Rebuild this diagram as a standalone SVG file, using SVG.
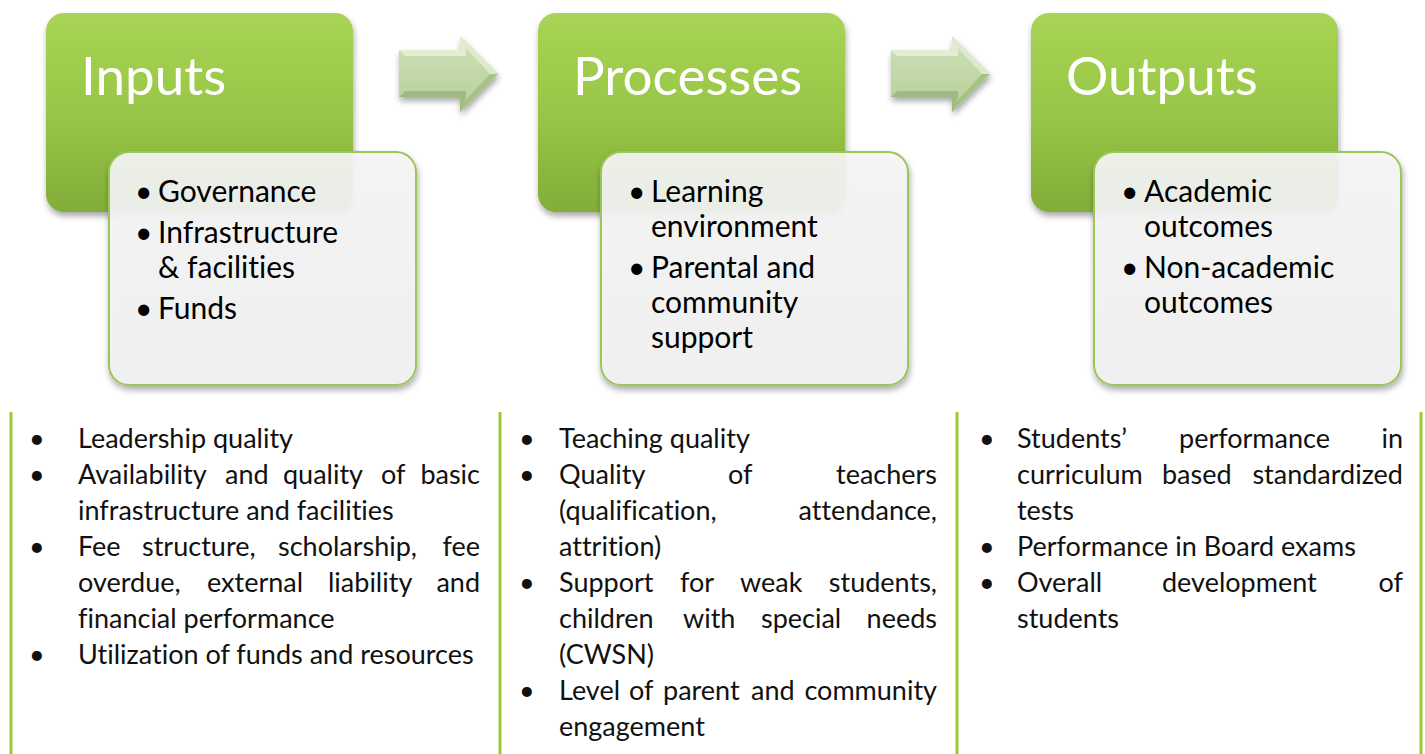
<svg xmlns="http://www.w3.org/2000/svg" width="1425" height="754" viewBox="0 0 1425 754">
<defs>
<linearGradient id="gMain" x1="0" y1="0" x2="0" y2="1">
<stop offset="0" stop-color="#a9d455"/>
<stop offset="0.5" stop-color="#98c646"/>
<stop offset="1" stop-color="#82ad38"/>
</linearGradient>
<linearGradient id="gSub" x1="0" y1="0" x2="0" y2="1">
<stop offset="0" stop-color="#f7f7f7"/>
<stop offset="1" stop-color="#f2f2f2"/>
</linearGradient>
<linearGradient id="gArrow" x1="0" y1="0" x2="0" y2="1">
<stop offset="0" stop-color="#d0e1ba"/>
<stop offset="1" stop-color="#b5cf96"/>
</linearGradient>
<filter id="shadow" x="-10%" y="-10%" width="125%" height="130%">
<feGaussianBlur in="SourceAlpha" stdDeviation="3"/>
<feOffset dx="1" dy="4" result="b"/>
<feComponentTransfer><feFuncA type="linear" slope="0.35"/></feComponentTransfer>
<feMerge><feMergeNode/><feMergeNode in="SourceGraphic"/></feMerge>
</filter>
</defs>
<style>
text{font-family:Lato,"Liberation Sans",sans-serif;font-variant-ligatures:none;font-feature-settings:"liga" 0,"dlig" 0}
.main{fill:url(#gMain);filter:url(#shadow)}
.sub{fill:url(#gSub);fill-opacity:0.9;stroke:#9cc65a;stroke-width:2;filter:url(#shadow)}
.title{font-size:53px;fill:#ffffff}
.item{font-size:30px;fill:#000000}
.body{font-size:27px;fill:#111111}
.rule{stroke:#99cc33;stroke-width:3}
.arrow{fill:url(#gArrow);filter:url(#shadow)}
.bev-l{fill:#e2edd4}
.bev-d{fill:#a0bb82}
</style>
<rect width="1425" height="754" fill="#ffffff"/>

<g id="connectors">
<g id="arrow1">
<polygon class="arrow" points="399,50 460,50 460,36 498,74 460,112 460,97 399,97"/>
<polygon class="bev-l" points="399,50 460,50 460,36 466,50 466,56 405,56"/>
<polygon class="bev-d" points="399,97 460,97 460,112 466,97 466,91 405,91"/>
<polygon class="bev-d" points="498,74 460,112 464,102 490,74" opacity="0.8"/>
<polygon class="bev-l" points="498,74 460,36 464,46 490,74" opacity="0.8"/>
</g>
<g id="arrow2">
<polygon class="arrow" points="891,50 952,50 952,36 990,74 952,112 952,97 891,97"/>
<polygon class="bev-l" points="891,50 952,50 952,36 958,50 958,56 897,56"/>
<polygon class="bev-d" points="891,97 952,97 952,112 958,97 958,91 897,91"/>
<polygon class="bev-d" points="990,74 952,112 956,102 982,74" opacity="0.8"/>
<polygon class="bev-l" points="990,74 952,36 956,46 982,74" opacity="0.8"/>
</g>
</g>

<g id="inputs">
<rect class="main" x="46" y="13" width="307" height="199" rx="18"/>
<text class="title" x="81" y="95">Inputs</text>
<rect class="sub" x="109" y="152" width="307" height="233" rx="20"/>
<text class="item"><tspan x="135" y="202">•</tspan><tspan x="158" y="202">Governance</tspan><tspan x="135" y="243">•</tspan><tspan x="158" y="243">Infrastructure</tspan><tspan x="158" y="278">&amp; facilities</tspan><tspan x="135" y="319">•</tspan><tspan x="158" y="319">Funds</tspan></text>
</g>

<g id="processes">
<rect class="main" x="538" y="13" width="307" height="199" rx="18"/>
<text class="title" x="573" y="95">Processes</text>
<rect class="sub" x="601" y="152" width="307" height="233" rx="20"/>
<text class="item"><tspan x="628" y="202">•</tspan><tspan x="651" y="202">Learning</tspan><tspan x="651" y="237">environment</tspan><tspan x="628" y="278">•</tspan><tspan x="651" y="278">Parental and</tspan><tspan x="651" y="313">community</tspan><tspan x="651" y="348">support</tspan></text>
</g>

<g id="outputs">
<rect class="main" x="1031" y="13" width="307" height="199" rx="18"/>
<text class="title" x="1066" y="95">Outputs</text>
<rect class="sub" x="1094" y="152" width="307" height="233" rx="20"/>
<text class="item"><tspan x="1121" y="202">•</tspan><tspan x="1144" y="202">Academic</tspan><tspan x="1144" y="237">outcomes</tspan><tspan x="1121" y="278">•</tspan><tspan x="1144" y="278">Non-academic</tspan><tspan x="1144" y="313">outcomes</tspan></text>
</g>

<g id="rules">
<line class="rule" x1="11" y1="412" x2="11" y2="754"/>
<line class="rule" x1="500" y1="412" x2="500" y2="754"/>
<line class="rule" x1="957" y1="412" x2="957" y2="754"/>
<line class="rule" x1="1421" y1="412" x2="1421" y2="754"/>
</g>

<g id="inputs-details" class="body">
<text class="body"><tspan x="29" y="448">•</tspan><tspan x="78" y="448">Leadership quality</tspan></text>
<text class="body"><tspan x="29" y="484">•</tspan><tspan x="78" y="484">Availability</tspan><tspan x="225" y="484">and</tspan><tspan x="283" y="484">quality</tspan><tspan x="381" y="484">of</tspan><tspan x="480" y="484" text-anchor="end">basic</tspan></text>
<text class="body" x="78" y="520">infrastructure and facilities</text>
<text class="body"><tspan x="29" y="556">•</tspan><tspan x="78" y="556">Fee</tspan><tspan x="142" y="556">structure,</tspan><tspan x="278" y="556">scholarship,</tspan><tspan x="480" y="556" text-anchor="end">fee</tspan></text>
<text class="body"><tspan x="78" y="592">overdue,</tspan><tspan x="207" y="592">external</tspan><tspan x="328" y="592">liability</tspan><tspan x="480" y="592" text-anchor="end">and</tspan></text>
<text class="body" x="78" y="628">financial performance</text>
<text class="body"><tspan x="29" y="664">•</tspan><tspan x="78" y="664">Utilization of funds and resources</tspan></text>
</g>

<g id="processes-details">
<text class="body"><tspan x="519" y="448">•</tspan><tspan x="559" y="448">Teaching quality</tspan></text>
<text class="body"><tspan x="519" y="484">•</tspan><tspan x="559" y="484">Quality</tspan><tspan x="728" y="484">of</tspan><tspan x="937" y="484" text-anchor="end">teachers</tspan></text>
<text class="body"><tspan x="559" y="520">(qualification,</tspan><tspan x="937" y="520" text-anchor="end">attendance,</tspan></text>
<text class="body" x="559" y="556">attrition)</text>
<text class="body"><tspan x="519" y="592">•</tspan><tspan x="559" y="592">Support</tspan><tspan x="680" y="592">for</tspan><tspan x="740" y="592">weak</tspan><tspan x="937" y="592" text-anchor="end">students,</tspan></text>
<text class="body"><tspan x="559" y="628">children</tspan><tspan x="683" y="628">with</tspan><tspan x="761" y="628">special</tspan><tspan x="937" y="628" text-anchor="end">needs</tspan></text>
<text class="body" x="559" y="664">(CWSN)</text>
<text class="body"><tspan x="519" y="700">•</tspan><tspan x="559" y="700">Level</tspan><tspan x="629" y="700">of</tspan><tspan x="663" y="700">parent</tspan><tspan x="751" y="700">and</tspan><tspan x="937" y="700" text-anchor="end">community</tspan></text>
<text class="body" x="559" y="736">engagement</text>
</g>

<g id="outputs-details">
<text class="body"><tspan x="979" y="448">•</tspan><tspan x="1017" y="448">Students’</tspan><tspan x="1179" y="448">performance</tspan><tspan x="1403" y="448" text-anchor="end">in</tspan></text>
<text class="body"><tspan x="1017" y="484">curriculum</tspan><tspan x="1162" y="484">based</tspan><tspan x="1403" y="484" text-anchor="end">standardized</tspan></text>
<text class="body" x="1017" y="520">tests</text>
<text class="body"><tspan x="979" y="556">•</tspan><tspan x="1017" y="556">Performance in Board exams</tspan></text>
<text class="body"><tspan x="979" y="592">•</tspan><tspan x="1017" y="592">Overall</tspan><tspan x="1162" y="592">development</tspan><tspan x="1403" y="592" text-anchor="end">of</tspan></text>
<text class="body" x="1017" y="628">students</text>
</g>
</svg>
